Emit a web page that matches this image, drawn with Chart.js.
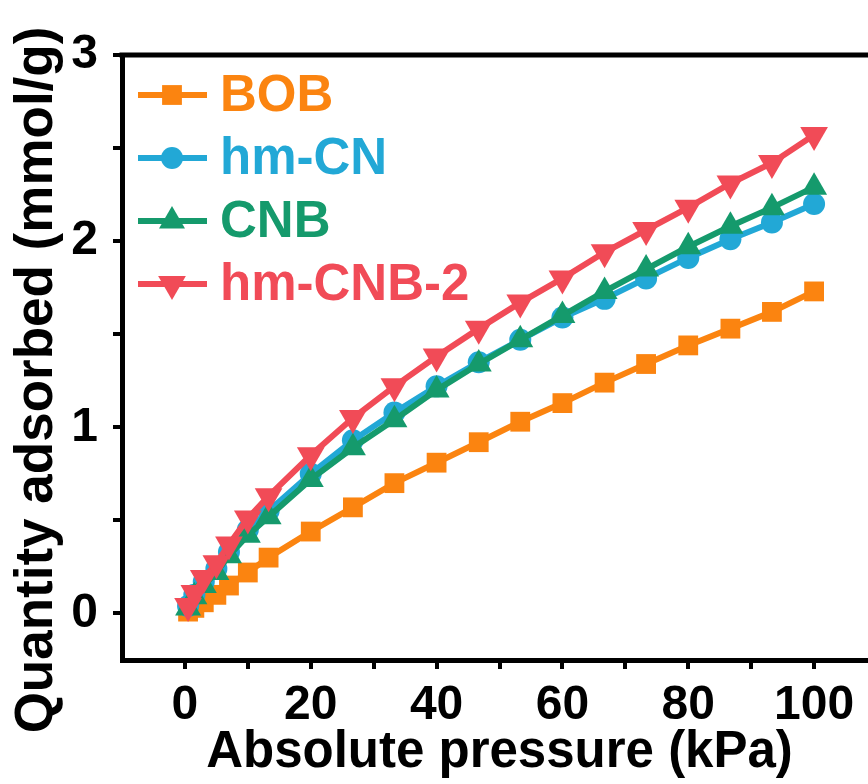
<!DOCTYPE html>
<html>
<head>
<meta charset="utf-8">
<script src="https://cdn.jsdelivr.net/npm/chart.js@4/dist/chart.umd.min.js"></script>
<style>
  html, body { margin: 0; padding: 0; background: #fff; overflow: hidden; }
  #wrap { width: 893px; height: 784px; }
</style>
</head>
<body>
<div id="wrap"><canvas id="isoChart"></canvas></div>
<script>
// absolute pressure (kPa)
const pressure = [0.5, 1.5, 3, 5, 7, 10, 13.3, 20, 26.7, 33.3, 40, 46.7, 53.3, 60, 66.7, 73.3, 80, 86.7, 93.3, 100];
// quantity adsorbed (mmol/g)
const bob    = [0.01, 0.03, 0.06, 0.10, 0.15, 0.22, 0.30, 0.44, 0.57, 0.70, 0.81, 0.92, 1.03, 1.13, 1.24, 1.34, 1.44, 1.53, 1.62, 1.73];
const hmCN   = [0.04, 0.10, 0.17, 0.24, 0.33, 0.45, 0.55, 0.75, 0.93, 1.08, 1.22, 1.35, 1.47, 1.59, 1.69, 1.80, 1.91, 2.01, 2.10, 2.20];
const cnb    = [0.03, 0.09, 0.15, 0.22, 0.31, 0.42, 0.52, 0.72, 0.89, 1.04, 1.20, 1.34, 1.47, 1.60, 1.73, 1.85, 1.97, 2.08, 2.18, 2.29];
const hmCNB2 = [0.04, 0.11, 0.19, 0.27, 0.37, 0.51, 0.63, 0.85, 1.05, 1.22, 1.38, 1.53, 1.67, 1.80, 1.94, 2.06, 2.18, 2.31, 2.42, 2.57];

const xTicks = [0, 10, 20, 30, 40, 50, 60, 70, 80, 90, 100];
const yTicks = [0, 0.5, 1, 1.5, 2, 2.5, 3];

const FONT = "'Liberation Sans', Arial, sans-serif";
const yTitle = 'Quantity adsorbed (mmol/g)';

const pts = ys => ys.map((y, i) => ({ x: pressure[i], y }));

const series = [
  { label: 'BOB',      data: bob,    color: '#fb8410', style: 'rect',     radius: 14, rotation: 0,   order: 4 },
  { label: 'hm-CN',    data: hmCN,   color: '#22a8d6', style: 'circle',   radius: 11, rotation: 0,   order: 3 },
  { label: 'CNB',      data: cnb,    color: '#159a6c', style: 'triangle', radius: 15, rotation: 0,   order: 2 },
  { label: 'hm-CNB-2', data: hmCNB2, color: '#f14b57', style: 'triangle', radius: 16, rotation: 180, order: 1 }
];

function marker(ctx, style, r, rot, x, y, color) {
  ctx.fillStyle = color;
  ctx.beginPath();
  if (style === 'rect') {
    const s = r / Math.SQRT2;
    ctx.rect(x - s, y - s, 2 * s, 2 * s);
  } else if (style === 'circle') {
    ctx.arc(x, y, r, 0, Math.PI * 2);
  } else {
    let a = rot * Math.PI / 180;
    for (let k = 0; k < 3; k++) {
      const px = x + Math.sin(a) * r, py = y - Math.cos(a) * r;
      k ? ctx.lineTo(px, py) : ctx.moveTo(px, py);
      a += 2 * Math.PI / 3;
    }
    ctx.closePath();
  }
  ctx.fill();
}

// frame on top/right, y title, legend with line and marker
const framePlugin = {
  id: 'frame',
  afterDraw(chart) {
    const { ctx, chartArea: a } = chart;
    ctx.save();
    ctx.strokeStyle = '#000';
    ctx.lineWidth = 5;
    ctx.beginPath();
    ctx.moveTo(a.left - 2.5, a.top);
    ctx.lineTo(a.right, a.top);
    ctx.lineTo(a.right, a.bottom);
    ctx.stroke();

    ctx.save();
    ctx.translate(37, 380);
    ctx.rotate(-Math.PI / 2);
    ctx.fillStyle = '#000';
    ctx.font = 'bold 53px ' + FONT;
    ctx.textAlign = 'center';
    ctx.textBaseline = 'middle';
    ctx.fillText(yTitle, 0, 0);
    ctx.restore();

    ctx.font = 'bold 51px ' + FONT;
    ctx.textBaseline = 'middle';
    series.forEach((s, i) => {
      const y = a.top + 40 + i * 63;
      const x0 = a.left + 16;
      ctx.strokeStyle = s.color;
      ctx.lineWidth = 6;
      ctx.beginPath();
      ctx.moveTo(x0, y);
      ctx.lineTo(x0 + 69, y);
      ctx.stroke();
      marker(ctx, s.style, s.radius, s.rotation, x0 + 34, y, s.color);
      ctx.fillStyle = s.color;
      ctx.fillText(s.label, x0 + 82, y + 2);
    });
    ctx.restore();
  }
};

new Chart(document.getElementById('isoChart'), {
  type: 'line',
  data: {
    datasets: series.map(s => ({
      label: s.label,
      data: pts(s.data),
      borderColor: s.color,
      backgroundColor: s.color,
      borderWidth: 6,
      pointStyle: s.style,
      pointRadius: s.radius,
      pointRotation: s.rotation,
      pointBorderWidth: 0,
      pointBackgroundColor: s.color,
      tension: 0,
      order: s.order
    }))
  },
  options: {
    responsive: true,
    maintainAspectRatio: false,
    animation: false,
    layout: { padding: { top: 55, right: 5, left: 0, bottom: 0 } },
    plugins: { legend: { display: false }, tooltip: { enabled: false } },
    scales: {
      x: {
        type: 'linear',
        min: -10,
        max: 110,
        afterBuildTicks: sc => { sc.ticks = xTicks.map(v => ({ value: v })); },
        afterFit: sc => { sc.height = 124; },
        border: { color: '#000', width: 5 },
        grid: { drawOnChartArea: false, tickLength: 9, lineWidth: 4, tickColor: '#000' },
        ticks: {
          autoSkip: false, maxRotation: 0, padding: 8, color: '#000',
          font: { family: FONT, size: 48, weight: 'bold' },
          callback: v => (v % 20 === 0 ? v : '')
        },
        title: {
          display: true, text: 'Absolute pressure (kPa)', color: '#000',
          font: { family: FONT, size: 51, weight: 'bold' },
          padding: { top: 0, bottom: 0 }
        }
      },
      y: {
        min: -0.25,
        max: 3,
        afterBuildTicks: sc => { sc.ticks = yTicks.map(v => ({ value: v })); },
        afterFit: sc => { sc.width = 122; },
        border: { color: '#000', width: 5 },
        grid: { drawOnChartArea: false, tickLength: 9, lineWidth: 4, tickColor: '#000' },
        ticks: {
          autoSkip: false, padding: 15, color: '#000',
          font: { family: FONT, size: 48, weight: 'bold' },
          callback: v => (Number.isInteger(v) ? v : '')
        },
        title: { display: false }
      }
    }
  },
  plugins: [framePlugin]
});
</script>
</body>
</html>
